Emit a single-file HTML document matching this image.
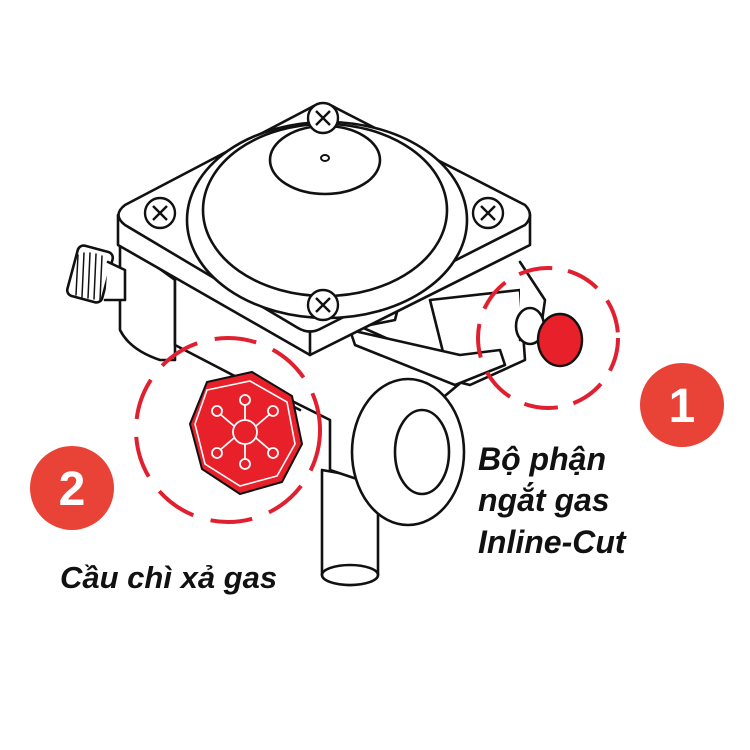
<!DOCTYPE html>
<html><head><meta charset="utf-8"><style>
html,body{margin:0;padding:0;background:#fff}
svg{display:block}
text{font-family:"Liberation Sans",sans-serif;font-weight:bold;font-style:italic;fill:#111}
</style></head><body>
<svg width="750" height="750" viewBox="0 0 750 750" xmlns="http://www.w3.org/2000/svg">
<g fill="#fff" stroke="#111" stroke-width="2.6" stroke-linejoin="round" stroke-linecap="round">
<!-- vertical pipe -->
<path d="M322 470 L322 575 Q350 595 378 575 L378 480 Z"/>
<ellipse cx="350" cy="575" rx="28" ry="10"/>
<!-- lower body -->
<path d="M160 270 L160 330 Q170 345 190 350 L330 420 L330 470 L420 500 L440 400 L470 375 L300 300 Z"/>
<path d="M120 240 L120 330 Q130 350 160 360 L175 360 L175 280 Z"/>
<path d="M175 270 L175 345 L300 410"/>
<!-- side knob left -->
<rect x="72" y="248" width="36" height="52" rx="6" transform="rotate(15 90 274)"/>
<path d="M78 255 L76 295 M84 253 L82 297 M90 253 L88 298 M96 254 L94 299 M102 256 L100 300" stroke-width="1.5"/>
<path d="M108 262 L125 270 L125 300 L105 300"/>
<!-- right mechanism -->
<path d="M430 300 L520 290 L525 360 L470 385 L450 380 Z"/>
<path d="M350 330 L460 355 L500 350 L505 365 L455 385 L355 345 Z"/>
<path d="M360 300 Q372 285 385 290 L400 300 L395 320 L370 325 Z"/>
<path d="M520 262 L545 300 L540 335 L520 340"/>
<ellipse cx="530" cy="326" rx="14" ry="18"/>
<!-- top plate sides -->
<path d="M118 215 L118 245 L310 355 L530 245 L530 215"/>
<path d="M310 330 L310 355"/>
<!-- top plate -->
<path d="M310 108 Q323 100 336 108 L525 205 Q535 215 525 225 L322 328 Q310 335 298 328 L125 225 Q112 215 125 205 Z"/>
<!-- dome -->
<ellipse cx="327" cy="220" rx="140" ry="98"/>
<ellipse cx="325" cy="210" rx="122" ry="86"/>
<ellipse cx="325" cy="160" rx="55" ry="34"/>
<ellipse cx="325" cy="158" rx="4" ry="3" stroke-width="2"/>
<!-- ring -->
<ellipse cx="408" cy="452" rx="56" ry="73"/>
<ellipse cx="422" cy="452" rx="27" ry="42"/>
</g>
<!-- screws -->
<g fill="#fff" stroke="#111" stroke-width="2.4">
<circle cx="323" cy="118" r="15"/><circle cx="160" cy="213" r="15"/><circle cx="488" cy="213" r="15"/><circle cx="323" cy="305" r="15"/>
<path d="M316 111 L330 125 M330 111 L316 125 M153 206 L167 220 M167 206 L153 220 M481 206 L495 220 M495 206 L481 220 M316 298 L330 312 M330 298 L316 312"/>
</g>
<!-- red button -->
<ellipse cx="560" cy="340" rx="22" ry="26" fill="#e8202a" stroke="#111" stroke-width="2.4"/>
<!-- red hex nut -->
<g transform="translate(2,4)">
<polygon points="205,378 250,368 290,392 300,440 280,478 238,490 200,465 188,420" fill="#e8202a" stroke="#111" stroke-width="2"/>
<polygon points="205,386 248,377 285,398 293,440 275,472 238,482 203,460 193,420" fill="none" stroke="#fff" stroke-width="1.6"/>
<g stroke="#fff" stroke-width="1.8" fill="none">
<circle cx="243" cy="428" r="12"/>
<path d="M243 416 L243 400 M243 440 L243 456 M232 422 L218 410 M254 434 L268 446 M232 434 L218 446 M254 422 L268 410"/>
<circle cx="243" cy="396" r="5"/><circle cx="243" cy="460" r="5"/><circle cx="215" cy="407" r="5"/><circle cx="271" cy="449" r="5"/><circle cx="215" cy="449" r="5"/><circle cx="271" cy="407" r="5"/>
</g>
</g>
<!-- dashed circles -->
<circle cx="548" cy="338" r="70" fill="none" stroke="#e02030" stroke-width="4" stroke-dasharray="34 16"/>
<circle cx="228" cy="430" r="92" fill="none" stroke="#e02030" stroke-width="4" stroke-dasharray="42 18"/>
<!-- badges -->
<circle cx="682" cy="405" r="42" fill="#e84336"/>
<circle cx="72" cy="488" r="42" fill="#e84336"/>
<text x="682" y="422" font-size="48" text-anchor="middle" style="fill:#fff;font-style:normal">1</text>
<text x="72" y="505" font-size="48" text-anchor="middle" style="fill:#fff;font-style:normal">2</text>
<!-- labels -->
<text x="478" y="470" font-size="32">Bộ phận</text>
<text x="478" y="511" font-size="32">ngắt gas</text>
<text x="478" y="553" font-size="32">Inline-Cut</text>
<text x="60" y="588" font-size="31">Cầu chì xả gas</text>
</svg>
</body></html>
